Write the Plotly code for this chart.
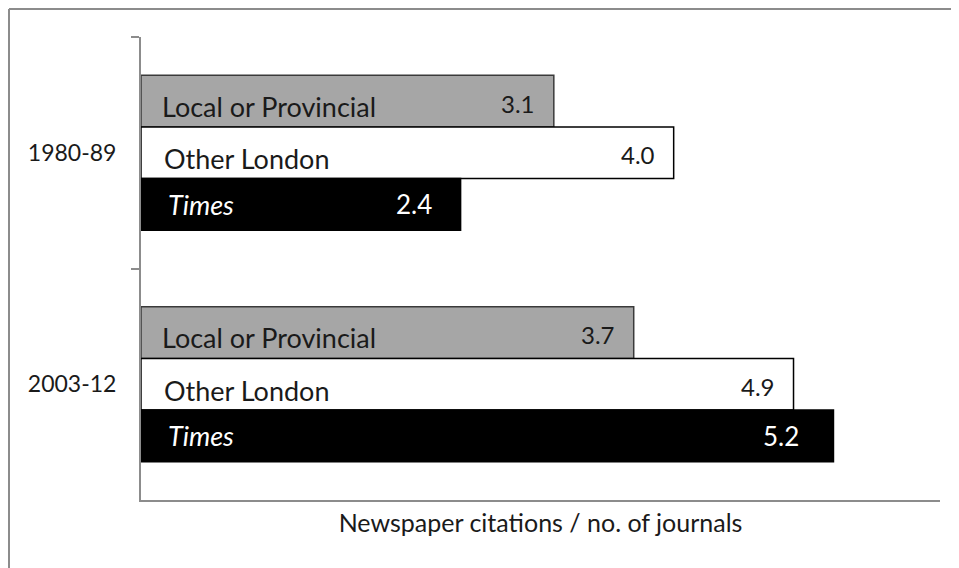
import plotly.graph_objects as go

periods = ["1980-89", "2003-12"]
series_names = ["Local or Provincial", "Other London", "Times"]
local_vals = [3.1, 3.7]
london_vals = [4.0, 4.9]
times_vals = [2.4, 5.2]
x_title = "Newspaper citations / no. of journals"

FONT = "Lato"
fills = ["#a6a6a6", "#ffffff", "#000000"]
outlines = ["#3a3a3a", "#000000", "#000000"]
values = [local_vals, london_vals, times_vals]

fig = go.Figure()
for name, vals, fc, lc in zip(series_names, values, fills, outlines):
    fig.add_trace(go.Bar(
        y=periods, x=vals, orientation="h", name=name,
        marker=dict(color=fc, line=dict(color=lc, width=1.5)),
        hoverinfo="skip",
    ))

bargap = 0.33
groupw = 1 - bargap
bw = groupw / 3
name_xshift = [19, 21, 25]
name_yshift = [-5, -6, 0]
val_xshift = [-17, -17, -27]
val_yshift = [-2, -2, 0]
annotations = []
for ci, per in enumerate(periods):
    for si, (name, vals) in enumerate(zip(series_names, values)):
        yc = ci - groupw / 2 + (si + 0.5) * bw
        is_times = name == "Times"
        tcol = "white" if is_times else "#1a1a1a"
        label = "<i>Times</i>" if is_times else name
        annotations.append(dict(
            x=0, y=yc, xref="x", yref="y", text=label, showarrow=False,
            xanchor="left", yanchor="middle", xshift=name_xshift[si],
            yshift=name_yshift[si],
            font=dict(family=FONT, size=27, color=tcol),
        ))
        vx = val_xshift[si]
        if is_times and ci == 1:
            vx = -32
        annotations.append(dict(
            x=vals[ci], y=yc, xref="x", yref="y", text=f"{vals[ci]:.1f}",
            showarrow=False, xanchor="right", yanchor="middle",
            xshift=vx, yshift=val_yshift[si],
            font=dict(family=FONT, size=26 if is_times else 24, color=tcol),
        ))

W, H = 951, 560
L, R, T, B = 133, 932, 29, 492
pw, ph = R - L, B - T
fx0 = (1 - L) / pw
fy1 = 1 + (T - 1) / ph

fig.update_layout(
    width=W, height=H,
    margin=dict(l=L, r=W - R, t=T, b=H - B, autoexpand=False),
    paper_bgcolor="white", plot_bgcolor="white",
    barmode="group", bargap=bargap, bargroupgap=0,
    showlegend=False,
    font=dict(family=FONT, color="black"),
    xaxis=dict(range=[0, 6], showticklabels=False, showgrid=False, zeroline=False,
               showline=True, linecolor="#8c8c8c", linewidth=2, ticks="",
               automargin=False,
               title=dict(text=x_title, font=dict(family=FONT, size=25, color="#1a1a1a"), standoff=13),
               fixedrange=True),
    yaxis=dict(type="category", autorange=False, range=[1.5, -0.5], showgrid=False, zeroline=False,
               showline=True, linecolor="#8c8c8c", linewidth=2, automargin=False,
               ticks="outside", tickson="boundaries", ticklen=8, tickwidth=2,
               tickcolor="#8c8c8c", ticklabelstandoff=18,
               tickfont=dict(family=FONT, size=23, color="#1a1a1a"), fixedrange=True),
    annotations=annotations,
    shapes=[
        dict(type="line", xref="paper", yref="paper", x0=fx0, x1=fx0, y0=fy1, y1=-0.3,
             line=dict(color="#8c8c8c", width=2)),
        dict(type="line", xref="paper", yref="paper", x0=fx0, x1=1.1, y0=fy1, y1=fy1,
             line=dict(color="#8c8c8c", width=2)),
    ],
)

fig.write_html("out.html")
